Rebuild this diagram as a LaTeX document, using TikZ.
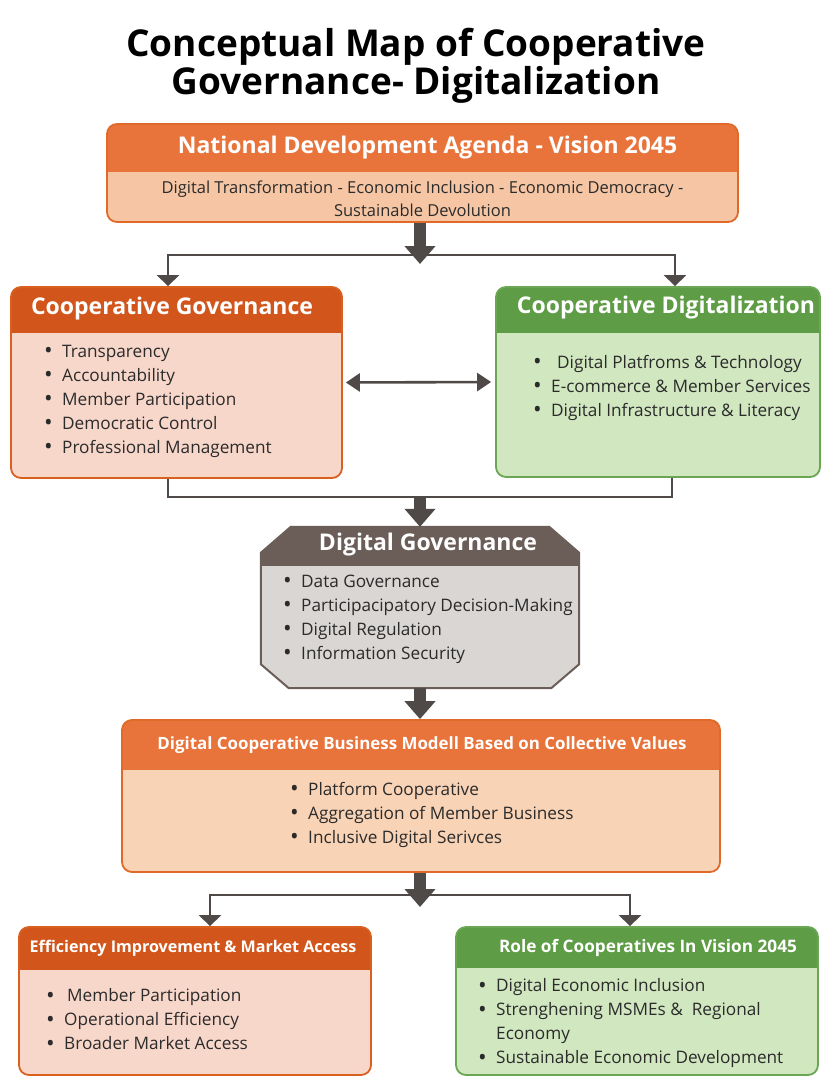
\documentclass[tikz,border=0pt]{standalone}
\usepackage{fontspec}
\setmainfont{Open Sans}
\usetikzlibrary{arrows.meta,calc}

\definecolor{orhead}{HTML}{E8743B}
\definecolor{orbody}{HTML}{F6C6A4}
\definecolor{orline}{HTML}{E06A2A}
\definecolor{rdhead}{HTML}{D2561B}
\definecolor{rdbody}{HTML}{F8D7CB}
\definecolor{rdline}{HTML}{D9601F}
\definecolor{grhead}{HTML}{5F9C46}
\definecolor{grbody}{HTML}{D0E7C0}
\definecolor{grline}{HTML}{6AA653}
\definecolor{gyhead}{HTML}{6B5E58}
\definecolor{gybody}{HTML}{D9D6D4}
\definecolor{bmbody}{HTML}{F9D3B6}
\definecolor{arr}{HTML}{4F4948}
\definecolor{txt}{HTML}{2B2B2B}

\newcommand\itm[1][0pt]{\makebox[\dimexpr18pt+#1\relax][l]{\raisebox{-1.3pt}{\fontsize{23}{24}\selectfont\textbullet}}}

\tikzset{
  panel/.style n args={4}{draw=#1, fill=#2, line width=1.8pt, rounded corners=10pt,
    inner sep=0pt,
    path picture={\fill[#3, sharp corners] (path picture bounding box.north west)
      rectangle ([yshift=-#4]path picture bounding box.north east);}},
  head/.style={text=white, inner sep=0pt, font=\bfseries\fontsize{#1}{#1}\selectfont},
  items/.style={anchor=west, align=left, inner sep=0pt, text=txt,
    font=\fontsize{#1}{24}\selectfont},
  bigarrow/.style={draw=arr, line width=12pt, -{Triangle[length=18pt,width=30pt]}},
  link/.style={draw=arr, line width=2.6pt},
  linktip/.style={link, -{Triangle[length=11pt,width=22pt]}},
}

\begin{document}
\begin{tikzpicture}[x=1pt,y=-1pt]
  \useasboundingbox[fill=white] (0,0) rectangle (822,1079);

  \node[font=\bfseries\fontsize{37}{35}\selectfont, align=center, text=black] (title)
    at (416,66) {Conceptual Map of Cooperative\\Governance- Digitalization};

  % agenda
  \node[panel={orline}{orbody}{orhead}{48pt}, minimum width=631pt, minimum height=98pt]
    (nda) at (422.5,173) {};
  \node[head=23] (nda-h) at ([xshift=5pt,yshift=-24pt]nda.north) {National Development Agenda - Vision 2045};
  \node[align=center, text=txt, font=\fontsize{16.5}{23}\selectfont] (nda-b)
    at ([yshift=-76pt]nda.north) {Digital Transformation - Economic Inclusion - Economic Democracy -\\Sustainable Devolution};

  % governance and digitalization
  \node[panel={rdline}{rdbody}{rdhead}{46pt}, minimum width=331pt, minimum height=191pt]
    (cg) at (176.5,382.5) {};
  \node[head=23] (cg-h) at (172,309) {Cooperative Governance};
  \node[items=17.2] (cg-l) at (44,401) {\itm Transparency\\
    \itm Accountability\\
    \itm Member Participation\\
    \itm Democratic Control\\
    \itm Professional Management};

  \node[panel={grline}{grbody}{grhead}{46pt}, minimum width=324pt, minimum height=190pt]
    (cd) at (658,382) {};
  \node[head=23] (cd-h) at (666,308) {Cooperative Digitalization};
  \node[items=17.2] (cd-l) at (533,388) {\itm[6pt]Digital Platfroms \& Technology\\
    \itm E-commerce \& Member Services\\
    \itm Digital Infrastructure \& Literacy};

  % digital governance
  \node[minimum width=318pt, minimum height=161pt, inner sep=0pt] (dg) at (420,607.5) {};
  \draw[draw=gyhead, fill=gybody, line width=2pt]
    ([xshift=30pt]dg.north west) -- ([xshift=-30pt]dg.north east)
    -- ([yshift=-26pt]dg.north east) -- ([yshift=24pt]dg.south east)
    -- ([xshift=-28pt]dg.south east) -- ([xshift=28pt]dg.south west)
    -- ([yshift=24pt]dg.south west) -- ([yshift=-26pt]dg.north west) -- cycle;
  \fill[gyhead]
    ([xshift=30pt]dg.north west) -- ([xshift=-30pt]dg.north east)
    -- ([yshift=-26pt]dg.north east) -- ([yshift=-39pt]dg.north east)
    -- ([yshift=-39pt]dg.north west) -- ([yshift=-26pt]dg.north west) -- cycle;
  \node[head=23] (dg-h) at (428,545) {Digital Governance};
  \node[items=17.2] (dg-l) at (283,619.5) {\itm Data Governance\\
    \itm Participacipatory Decision-Making\\
    \itm Digital Regulation\\
    \itm Information Security};

  % business model
  \node[panel={orline}{bmbody}{orhead}{50pt}, minimum width=598pt, minimum height=152pt]
    (bm) at (421,796) {};
  \node[head=16.9] (bm-h) at (422,745) {Digital Cooperative Business Modell Based on Collective Values};
  \node[items=17.2] (bm-l) at (290,815) {\itm Platform Cooperative\\
    \itm Aggregation of Member Business\\
    \itm Inclusive Digital Serivces};

  % outcomes
  \node[panel={rdline}{rdbody}{rdhead}{43pt}, minimum width=352pt, minimum height=148pt]
    (ea) at (195,1001) {};
  \node[head=16.1] (ea-h) at (193,948) {Efficiency Improvement \& Market Access};
  \node[items=17.2] (ea-l) at (46,1020) {\itm[3pt]Member Participation\\
    \itm Operational Efficiency\\
    \itm Broader Market Access};

  \node[panel={grline}{grbody}{grhead}{41pt}, minimum width=362pt, minimum height=148pt]
    (rc) at (637,1001) {};
  \node[head=17.2] (rc-h) at (648,948) {Role of Cooperatives In Vision 2045};
  \node[items=17.2] (rc-l) at (478,1023.5) {\itm Digital Economic Inclusion\\
    \itm Strenghening MSMEs \&\ \ Regional\\
    \hspace{18pt}Economy\\
    \itm Sustainable Economic Development};

  % connectors
  \coordinate (sp1) at (420,255);
  \coordinate (sp1tip) at (420,264);
  \coordinate (mg) at (420,497);
  \coordinate (sp2) at (420,895);
  \coordinate (sp2tip) at (420,907);

  \draw[bigarrow] (nda.south -| sp1) -- (sp1tip);
  \draw[linktip] (sp1) -| ([xshift=-8.5pt]cg.north);
  \draw[linktip] (sp1) -| ([xshift=17pt]cd.north);
  \draw[link, {Triangle[length=14pt,width=18pt]}-{Triangle[length=14pt,width=18pt]},
    shorten <=3pt, shorten >=4pt] (cg.east) -- (cd.west);
  \draw[link] ([xshift=-8.5pt]cg.south) |- (mg) -| ([xshift=14pt]cd.south);
  \draw[bigarrow] (mg) -- (dg.north);
  \draw[bigarrow] (dg.south) -- (bm.north -| dg.south);
  \draw[bigarrow] (bm.south -| sp2) -- (sp2tip);
  \draw[linktip] (sp2) -| ([xshift=15pt]ea.north);
  \draw[linktip] (sp2) -| ([xshift=-7pt]rc.north);
\end{tikzpicture}
\end{document}
